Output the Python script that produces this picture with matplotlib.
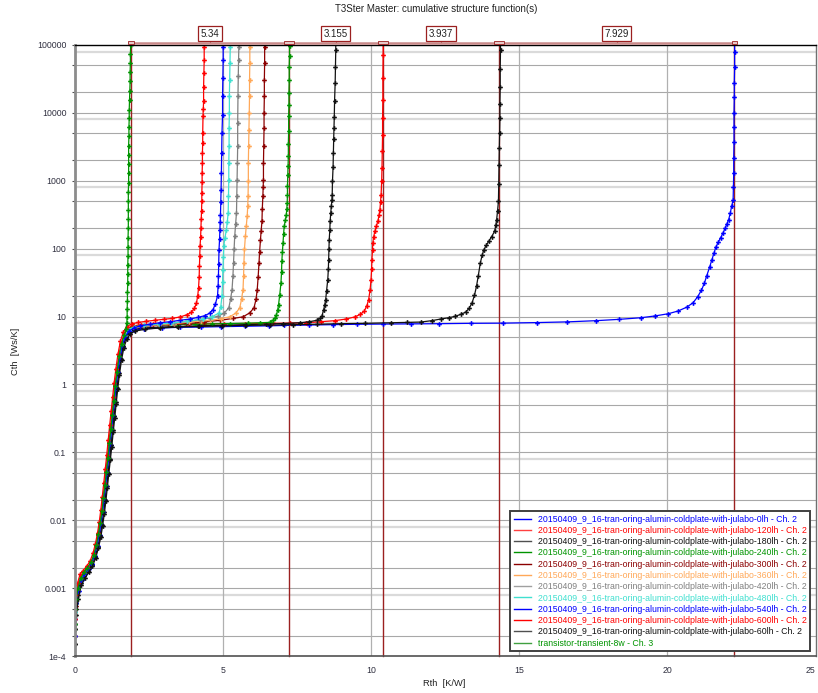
import matplotlib
matplotlib.use("Agg")
import matplotlib.pyplot as plt
from matplotlib.lines import Line2D
from matplotlib.patches import Rectangle
from matplotlib.ticker import FixedLocator, FixedFormatter, NullFormatter

plt.rcParams['font.family'] = ['Liberation Sans', 'DejaVu Sans']
plt.rcParams['font.size'] = 6.3

# cumulative structure functions: (Rth [K/W], Cth [Ws/K])
PTS_0LH = [(0.00, 0.0002), (0.02, 0.0004), (0.06, 0.0006), (0.13, 0.0009), (0.23, 0.0013), (0.35, 0.0016),
           (0.47, 0.0019), (0.59, 0.0023), (0.69, 0.003), (0.77, 0.0042), (0.84, 0.006), (0.90, 0.0088),
           (0.96, 0.013), (1.01, 0.02), (1.06, 0.032), (1.11, 0.05), (1.16, 0.08), (1.21, 0.13), (1.26, 0.21),
           (1.31, 0.34), (1.36, 0.55), (1.41, 0.9), (1.47, 1.45), (1.54, 2.4), (1.62, 3.6), (1.72, 4.9),
           (1.84, 5.8), (2.00, 6.3), (2.35, 6.6), (2.95, 6.8), (3.55, 6.95), (4.25, 7.0), (4.95, 7.1),
           (5.75, 7.2), (6.55, 7.3), (7.07, 7.4), (7.91, 7.5), (8.71, 7.6), (9.52, 7.7), (10.39, 7.75),
           (11.34, 7.8), (12.28, 7.85), (13.36, 7.95), (14.47, 8.0), (15.60, 8.15), (16.63, 8.35), (17.60, 8.7),
           (18.38, 9.1), (19.10, 9.6), (19.58, 10.2), (20.03, 11.0), (20.37, 12.1), (20.66, 13.8), (20.87, 16.0),
           (21.02, 19.5), (21.15, 24.4), (21.25, 31.0), (21.33, 40.0), (21.43, 54.0), (21.50, 68.0),
           (21.57, 85.0), (21.64, 106), (21.72, 125), (21.80, 145), (21.88, 171), (21.95, 200), (22.01, 232),
           (22.07, 268), (22.12, 330), (22.17, 420), (22.22, 527), (22.23, 800), (22.24, 1300), (22.24, 2200),
           (22.25, 3700), (22.25, 6300), (22.25, 10000), (22.26, 17000), (22.26, 28000), (22.27, 47000),
           (22.27, 80000), (22.27, 120000)]

PTS_120LH = [(0.00, 0.0003), (0.02, 0.0005), (0.06, 0.0007), (0.12, 0.0011), (0.21, 0.0015), (0.32, 0.0017),
             (0.44, 0.002), (0.55, 0.0024), (0.65, 0.0031), (0.73, 0.0043), (0.80, 0.0062), (0.86, 0.009),
             (0.91, 0.0135), (0.96, 0.021), (1.01, 0.033), (1.06, 0.053), (1.11, 0.085), (1.16, 0.14),
             (1.21, 0.23), (1.26, 0.37), (1.31, 0.6), (1.36, 0.97), (1.42, 1.6), (1.49, 2.6), (1.57, 4.0),
             (1.67, 5.5), (1.79, 6.7), (1.95, 7.3), (2.25, 7.55), (2.65, 7.65), (3.15, 7.7), (3.75, 7.75),
             (4.35, 7.8), (5.05, 7.85), (5.75, 7.9), (6.69, 7.95), (7.25, 8.0), (7.81, 8.1), (8.31, 8.4),
             (8.78, 8.7), (9.16, 9.2), (9.46, 9.9), (9.64, 10.8), (9.77, 12.0), (9.86, 14.5), (9.92, 17.8),
             (9.97, 25.0), (10.00, 35.0), (10.02, 50.0), (10.03, 69.0), (10.05, 95.0), (10.06, 122),
             (10.09, 150), (10.13, 180), (10.18, 215), (10.23, 253), (10.27, 310), (10.30, 377), (10.32, 480),
             (10.34, 627), (10.36, 1000), (10.37, 1549), (10.38, 2700), (10.39, 4800), (10.39, 8500),
             (10.40, 15700), (10.40, 33000), (10.41, 72000), (10.41, 120000)]

PTS_180LH = [(0.00, 0.00015), (0.02, 0.0003), (0.05, 0.0005), (0.11, 0.0008), (0.21, 0.0012), (0.33, 0.0015),
             (0.46, 0.0018), (0.58, 0.0022), (0.69, 0.0029), (0.78, 0.004), (0.86, 0.0058), (0.92, 0.0085),
             (0.98, 0.013), (1.03, 0.02), (1.08, 0.032), (1.13, 0.05), (1.18, 0.08), (1.23, 0.13), (1.28, 0.21),
             (1.33, 0.34), (1.38, 0.55), (1.43, 0.9), (1.49, 1.45), (1.56, 2.4), (1.64, 3.7), (1.74, 5.0),
             (1.86, 6.0), (2.01, 6.5), (2.36, 6.8), (2.86, 7.0), (3.46, 7.15), (4.16, 7.3), (4.96, 7.45),
             (5.76, 7.6), (6.46, 7.75), (7.04, 7.9), (7.60, 8.1), (7.92, 8.4), (8.17, 8.8), (8.28, 9.4),
             (8.34, 10.1), (8.40, 12.5), (8.44, 15.0), (8.47, 17.8), (8.50, 24.0), (8.54, 35.0), (8.56, 50.0),
             (8.57, 69.0), (8.58, 98.0), (8.59, 136), (8.61, 190), (8.62, 253), (8.64, 330), (8.66, 420),
             (8.68, 520), (8.69, 627), (8.70, 1000), (8.72, 1620), (8.73, 2600), (8.74, 4060), (8.75, 6000),
             (8.76, 8700), (8.77, 15000), (8.79, 27700), (8.80, 48000), (8.81, 85000), (8.81, 120000)]

PTS_240LH = [(0.00, 0.00025), (0.02, 0.0004), (0.05, 0.0006), (0.11, 0.0009), (0.20, 0.0013), (0.31, 0.0016),
             (0.43, 0.0019), (0.55, 0.0023), (0.65, 0.003), (0.73, 0.0042), (0.80, 0.006), (0.86, 0.0088),
             (0.92, 0.013), (0.97, 0.02), (1.02, 0.032), (1.07, 0.05), (1.12, 0.08), (1.17, 0.13), (1.22, 0.21),
             (1.27, 0.34), (1.32, 0.55), (1.37, 0.9), (1.43, 1.5), (1.50, 2.5), (1.58, 3.9), (1.68, 5.4),
             (1.80, 6.5), (1.96, 7.1), (2.35, 7.35), (2.85, 7.5), (3.45, 7.6), (4.05, 7.7), (4.65, 7.8),
             (5.25, 7.9), (5.85, 8.0), (6.25, 8.1), (6.58, 8.2), (6.69, 8.8), (6.76, 9.6), (6.81, 10.7),
             (6.85, 12.5), (6.88, 15.0), (6.92, 21.0), (6.96, 31.0), (6.98, 45.0), (6.99, 65.0), (7.01, 90.0),
             (7.03, 122), (7.05, 165), (7.07, 213), (7.11, 265), (7.14, 317), (7.16, 390), (7.17, 470),
             (7.18, 620), (7.18, 830), (7.19, 1200), (7.20, 1650), (7.21, 2290), (7.21, 3500), (7.22, 5380),
             (7.22, 9000), (7.23, 13000), (7.23, 19600), (7.24, 30000), (7.24, 48000), (7.25, 70000),
             (7.25, 96000), (7.25, 120000)]

PTS_300LH = [(0.00, 0.0002), (0.02, 0.00035), (0.05, 0.00055), (0.11, 0.0009), (0.20, 0.0013), (0.32, 0.0016),
             (0.44, 0.0019), (0.56, 0.0023), (0.66, 0.003), (0.74, 0.0042), (0.81, 0.006), (0.87, 0.0088),
             (0.93, 0.013), (0.98, 0.02), (1.03, 0.032), (1.08, 0.05), (1.13, 0.08), (1.18, 0.13), (1.23, 0.21),
             (1.28, 0.34), (1.33, 0.55), (1.38, 0.9), (1.44, 1.5), (1.51, 2.5), (1.59, 3.8), (1.69, 5.2),
             (1.82, 6.3), (1.99, 6.9), (2.35, 7.2), (2.85, 7.45), (3.35, 7.65), (3.85, 7.9), (4.35, 8.3),
             (4.90, 8.8), (5.35, 9.4), (5.68, 9.9), (5.90, 11.3), (6.05, 13.4), (6.12, 18.0), (6.16, 25.0),
             (6.19, 38.0), (6.22, 62.0), (6.24, 90.0), (6.27, 136), (6.29, 180), (6.32, 253), (6.33, 380),
             (6.35, 590), (6.36, 800), (6.37, 1040), (6.37, 1800), (6.38, 3230), (6.39, 6000), (6.39, 10000),
             (6.40, 17500), (6.40, 30000), (6.41, 55000), (6.41, 95000), (6.41, 120000)]

PTS_360LH = [(0.00, 0.0002), (0.02, 0.0004), (0.05, 0.0006), (0.11, 0.00095), (0.20, 0.0013), (0.32, 0.0016),
             (0.44, 0.0019), (0.56, 0.0023), (0.66, 0.003), (0.74, 0.0042), (0.81, 0.006), (0.87, 0.0088),
             (0.93, 0.013), (0.98, 0.02), (1.03, 0.032), (1.08, 0.05), (1.13, 0.08), (1.18, 0.13), (1.23, 0.21),
             (1.28, 0.34), (1.33, 0.55), (1.38, 0.9), (1.44, 1.5), (1.51, 2.5), (1.59, 3.8), (1.69, 5.2),
             (1.82, 6.3), (1.99, 6.9), (2.35, 7.25), (2.85, 7.55), (3.35, 7.9), (3.85, 8.3), (4.25, 8.6),
             (4.56, 8.8), (4.93, 9.3), (5.23, 9.9), (5.43, 11.2), (5.57, 13.4), (5.63, 18.0), (5.68, 25.0),
             (5.70, 40.0), (5.71, 62.0), (5.73, 100), (5.76, 152), (5.79, 215), (5.82, 300), (5.84, 420),
             (5.85, 590), (5.86, 1000), (5.86, 1830), (5.87, 3200), (5.88, 5600), (5.89, 10000), (5.90, 17500),
             (5.90, 30000), (5.91, 55000), (5.91, 95000), (5.91, 120000)]

PTS_420LH = [(0.00, 0.00025), (0.02, 0.0004), (0.05, 0.0006), (0.11, 0.0009), (0.20, 0.0013), (0.32, 0.0016),
             (0.44, 0.0019), (0.56, 0.0023), (0.66, 0.003), (0.74, 0.0042), (0.81, 0.006), (0.87, 0.0088),
             (0.93, 0.013), (0.98, 0.02), (1.03, 0.032), (1.08, 0.05), (1.13, 0.08), (1.18, 0.13), (1.23, 0.21),
             (1.28, 0.34), (1.33, 0.55), (1.38, 0.9), (1.44, 1.5), (1.51, 2.5), (1.59, 3.8), (1.69, 5.2),
             (1.82, 6.3), (1.99, 6.9), (2.35, 7.3), (2.85, 7.7), (3.35, 8.1), (3.80, 8.5), (4.22, 9.0),
             (4.55, 9.5), (4.84, 10.1), (5.05, 11.3), (5.20, 13.4), (5.26, 18.0), (5.31, 25.0), (5.34, 40.0),
             (5.36, 62.0), (5.38, 100), (5.40, 152), (5.43, 230), (5.46, 338), (5.47, 600), (5.48, 1040),
             (5.49, 1800), (5.50, 3230), (5.50, 7000), (5.51, 17500), (5.52, 35000), (5.53, 60000),
             (5.54, 95000), (5.54, 120000)]

PTS_480LH = [(0.00, 0.0003), (0.02, 0.00045), (0.05, 0.0006), (0.11, 0.0009), (0.20, 0.0013), (0.32, 0.0016),
             (0.44, 0.0019), (0.56, 0.0023), (0.66, 0.003), (0.74, 0.0042), (0.81, 0.006), (0.87, 0.0088),
             (0.93, 0.013), (0.98, 0.02), (1.03, 0.032), (1.08, 0.05), (1.13, 0.08), (1.18, 0.13), (1.23, 0.21),
             (1.28, 0.34), (1.33, 0.55), (1.38, 0.9), (1.44, 1.5), (1.51, 2.5), (1.59, 3.8), (1.69, 5.2),
             (1.82, 6.4), (1.99, 7.0), (2.35, 7.4), (2.85, 7.8), (3.25, 8.0), (3.80, 8.5), (4.33, 9.2),
             (4.65, 10.0), (4.87, 11.3), (4.93, 14.0), (4.97, 20.0), (4.99, 32.0), (5.00, 49.0), (5.02, 75.0),
             (5.03, 108), (5.07, 145), (5.12, 190), (5.15, 250), (5.18, 338), (5.19, 600), (5.20, 1040),
             (5.20, 1800), (5.21, 3230), (5.21, 6000), (5.22, 10000), (5.22, 18000), (5.23, 30800),
             (5.24, 55000), (5.25, 95000), (5.25, 120000)]

PTS_540LH = [(0.00, 0.0002), (0.02, 0.00035), (0.05, 0.0006), (0.11, 0.0009), (0.21, 0.0013), (0.33, 0.0016),
             (0.45, 0.0019), (0.57, 0.0023), (0.67, 0.003), (0.75, 0.0042), (0.82, 0.006), (0.88, 0.0088),
             (0.94, 0.013), (0.99, 0.02), (1.04, 0.032), (1.09, 0.05), (1.14, 0.08), (1.19, 0.13), (1.24, 0.21),
             (1.29, 0.34), (1.34, 0.55), (1.39, 0.9), (1.45, 1.5), (1.52, 2.4), (1.60, 3.7), (1.70, 5.0),
             (1.83, 6.1), (2.00, 6.8), (2.20, 7.3), (2.54, 7.7), (2.87, 8.1), (3.21, 8.4), (3.55, 8.8),
             (3.89, 9.2), (4.15, 9.7), (4.39, 10.3), (4.55, 11.2), (4.67, 12.7), (4.75, 15.5), (4.82, 20.0),
             (4.84, 28.0), (4.85, 39.0), (4.86, 60.0), (4.87, 97.0), (4.89, 140), (4.90, 190), (4.91, 250),
             (4.92, 317), (4.93, 480), (4.94, 740), (4.95, 1300), (4.96, 2570), (4.97, 5000), (4.99, 9440),
             (4.99, 18000), (5.00, 32700), (5.01, 60000), (5.01, 95000), (5.01, 120000)]

PTS_600LH = [(0.00, 0.00035), (0.02, 0.0006), (0.05, 0.0008), (0.10, 0.0012), (0.18, 0.0016), (0.28, 0.0018),
             (0.40, 0.0021), (0.52, 0.0025), (0.62, 0.0033), (0.70, 0.0045), (0.77, 0.0065), (0.83, 0.0095),
             (0.88, 0.014), (0.93, 0.022), (0.98, 0.035), (1.03, 0.056), (1.08, 0.09), (1.13, 0.15),
             (1.18, 0.25), (1.23, 0.40), (1.28, 0.65), (1.33, 1.05), (1.39, 1.7), (1.46, 2.8), (1.54, 4.3),
             (1.64, 5.9), (1.76, 7.1), (1.92, 7.8), (2.15, 8.2), (2.40, 8.5), (2.70, 8.8), (3.00, 9.1),
             (3.30, 9.4), (3.57, 9.9), (3.80, 10.7), (3.94, 11.6), (4.04, 13.2), (4.11, 15.9), (4.15, 20.0),
             (4.18, 26.5), (4.20, 38.0), (4.21, 55.0), (4.22, 78.0), (4.23, 108), (4.25, 150), (4.26, 203),
             (4.27, 270), (4.28, 355), (4.29, 500), (4.29, 663), (4.30, 950), (4.30, 1306), (4.31, 1800),
             (4.31, 2570), (4.32, 3600), (4.32, 5070), (4.33, 8900), (4.34, 11500), (4.35, 14900),
             (4.35, 24000), (4.36, 39000), (4.37, 60000), (4.37, 95000), (4.37, 120000)]

PTS_60LH = [(0.00, 0.00015), (0.02, 0.00025), (0.05, 0.0004), (0.12, 0.0007), (0.22, 0.0011), (0.34, 0.0014),
            (0.47, 0.0017), (0.60, 0.0021), (0.71, 0.0028), (0.80, 0.0039), (0.88, 0.0056), (0.94, 0.0082),
            (1.00, 0.0125), (1.05, 0.019), (1.10, 0.03), (1.15, 0.048), (1.20, 0.076), (1.25, 0.12),
            (1.30, 0.2), (1.35, 0.32), (1.40, 0.52), (1.45, 0.85), (1.51, 1.4), (1.58, 2.3), (1.66, 3.5),
            (1.76, 4.7), (1.88, 5.6), (2.03, 6.1), (2.38, 6.5), (2.88, 6.8), (3.48, 7.0), (4.18, 7.15),
            (4.98, 7.3), (5.78, 7.4), (6.58, 7.5), (7.38, 7.6), (8.18, 7.7), (8.98, 7.85), (9.80, 7.95),
            (10.67, 8.1), (11.20, 8.2), (11.68, 8.3), (12.05, 8.7), (12.35, 9.2), (12.62, 9.6), (12.85, 10.1),
            (13.03, 10.8), (13.19, 11.6), (13.31, 13.2), (13.41, 15.9), (13.49, 20.5), (13.56, 28.0),
            (13.62, 40.0), (13.69, 62.0), (13.75, 80.0), (13.81, 97.0), (13.89, 112), (13.97, 128),
            (14.07, 150), (14.17, 180), (14.21, 220), (14.24, 268), (14.27, 360), (14.30, 499), (14.31, 900),
            (14.32, 1733), (14.33, 3000), (14.34, 5000), (14.35, 8500), (14.35, 13700), (14.36, 24000),
            (14.36, 45000), (14.37, 85000), (14.37, 120000)]

PTS_8W = [(0.00, 0.0003), (0.02, 0.0005), (0.05, 0.0007), (0.11, 0.001), (0.20, 0.0014), (0.31, 0.0017),
          (0.43, 0.002), (0.55, 0.0024), (0.65, 0.0031), (0.73, 0.0043), (0.80, 0.0062), (0.86, 0.009),
          (0.92, 0.0135), (0.97, 0.021), (1.02, 0.033), (1.07, 0.052), (1.12, 0.083), (1.17, 0.135),
          (1.22, 0.22), (1.27, 0.36), (1.32, 0.58), (1.37, 0.95), (1.43, 1.55), (1.50, 2.6), (1.58, 4.0),
          (1.68, 5.4), (1.73, 6.6), (1.76, 8.0), (1.77, 10.0), (1.77, 13.0), (1.78, 17.0), (1.78, 23.0),
          (1.79, 31.0), (1.79, 42.0), (1.79, 57.0), (1.80, 78.0), (1.80, 105), (1.80, 145), (1.81, 200),
          (1.81, 270), (1.81, 370), (1.81, 500), (1.81, 690), (1.82, 940), (1.82, 1300), (1.82, 1750),
          (1.82, 2400), (1.82, 3300), (1.83, 4500), (1.83, 6100), (1.84, 8300), (1.84, 11000),
          (1.85, 15500), (1.86, 21000), (1.87, 29000), (1.87, 40000), (1.88, 54000), (1.88, 74000),
          (1.89, 100000), (1.89, 120000)]

LABELS = [
    "20150409_9_16-tran-oring-alumin-coldplate-with-julabo-0lh - Ch. 2",
    "20150409_9_16-tran-oring-alumin-coldplate-with-julabo-120lh - Ch. 2",
    "20150409_9_16-tran-oring-alumin-coldplate-with-julabo-180lh - Ch. 2",
    "20150409_9_16-tran-oring-alumin-coldplate-with-julabo-240lh - Ch. 2",
    "20150409_9_16-tran-oring-alumin-coldplate-with-julabo-300lh - Ch. 2",
    "20150409_9_16-tran-oring-alumin-coldplate-with-julabo-360lh - Ch. 2",
    "20150409_9_16-tran-oring-alumin-coldplate-with-julabo-420lh - Ch. 2",
    "20150409_9_16-tran-oring-alumin-coldplate-with-julabo-480lh - Ch. 2",
    "20150409_9_16-tran-oring-alumin-coldplate-with-julabo-540lh - Ch. 2",
    "20150409_9_16-tran-oring-alumin-coldplate-with-julabo-600lh - Ch. 2",
    "20150409_9_16-tran-oring-alumin-coldplate-with-julabo-60lh - Ch. 2",
    "transistor-transient-8w - Ch. 3",
]
COLORS = ["#0000ff", "#ff0000", "#111111", "#009400", "#8b0000", "#ffa858",
          "#808080", "#40e0d0", "#0000ff", "#ff0000", "#111111", "#009400"]
LEGEND_LINE_COLORS = ["#0000ff", "#ff4040", "#505050", "#009400", "#8b0000", "#ffa858",
                      "#a0a0a0", "#40e0d0", "#0000ff", "#ff0000", "#505050", "#40a040"]
SERIES = [PTS_0LH, PTS_120LH, PTS_180LH, PTS_240LH, PTS_300LH, PTS_360LH,
          PTS_420LH, PTS_480LH, PTS_540LH, PTS_600LH, PTS_60LH, PTS_8W]

# cursor positions: first cursor plus the measured differences
CURSOR_START = 1.90
CURSOR_DELTAS = [5.34, 3.155, 3.937, 7.929]

YTICKS = [1e-4, 1e-3, 1e-2, 1e-1, 1, 10, 100, 1000, 10000, 100000]
YTICK_LABELS = ["1e-4", "0.001", "0.01", "0.1", "1", "10", "100", "1000", "10000", "100000"]
XTICKS = [0, 5, 10, 15, 20, 25]

W, H = 818, 693
fig = plt.figure(figsize=(W / 100, H / 100), dpi=100)
x0, x1, ytop, ybot = 74.7, 815.5, 45, 656
ax = fig.add_axes([x0 / W, 1 - ybot / H, (x1 - x0) / W, (ybot - ytop) / H])
ax.set_yscale('log')
ax.set_xlim(0, 25)
ax.set_ylim(1e-4, 1e5)

# grid: decades plus 2 and 5, with a pale line just under each decade
for e in range(-4, 5):
    for m in (1, 2, 5):
        v = m * 10.0 ** e
        if 1e-4 < v < 1e5:
            ax.axhline(v, color="#a8a8a8", lw=0.8, zorder=0)
    ax.axhline(0.8 * 10.0 ** (e + 1), color="#dadada", lw=1.6, zorder=0)
for xv in (5, 10, 15, 20):
    ax.axvline(xv, color="#b0b0b0", lw=0.9, zorder=0)

# cursors and their difference bar above the plot
trans = ax.get_xaxis_transform()
cursors = [CURSOR_START]
for d in CURSOR_DELTAS:
    cursors.append(cursors[-1] + d)
for c in cursors:
    ax.plot([c, c], [0, 1.003], transform=trans, color="#9b2020", lw=1.0,
            zorder=1.5, clip_on=False)
ax.plot([cursors[0], cursors[-1]], [1.0035, 1.0035], transform=trans, color="#c98a8a",
        lw=1.8, clip_on=False, zorder=3)
for i, c in enumerate(cursors):
    wdt = 0.17 if i in (0, len(cursors) - 1) else 0.34
    ax.add_patch(Rectangle((c - wdt / 2, 1.0015), wdt, 0.0045, transform=trans, fc="#e8c8c8",
                           ec="#9b2020", lw=0.6, clip_on=False, zorder=4))
for a, b, d in zip(cursors[:-1], cursors[1:], CURSOR_DELTAS):
    mid = (a + b) / 2
    ax.plot([mid, mid], [1.0035, 1.012], transform=trans, color="#9b2020", lw=0.8, clip_on=False)
    ax.text(mid, 1.0185, f"{d:g}", transform=trans, ha='center', va='center', fontsize=7,
            color="#222222", clip_on=False, zorder=5,
            bbox=dict(boxstyle='square,pad=0.25', fc='white', ec="#9b2020", lw=0.9))

for pts, col in zip(SERIES, COLORS):
    r = [p[0] for p in pts]
    c = [p[1] for p in pts]
    ax.plot(r, c, color=col, lw=0.9, marker='P', ms=3.4, mew=0, zorder=2)

ax.yaxis.set_major_locator(FixedLocator(YTICKS))
ax.yaxis.set_major_formatter(FixedFormatter(YTICK_LABELS))
minor = [m * 10.0 ** e for e in range(-4, 5) for m in (2, 5)]
ax.yaxis.set_minor_locator(FixedLocator(minor))
ax.yaxis.set_minor_formatter(NullFormatter())
ax.set_xticks(XTICKS)
ax.tick_params(axis='y', which='both', length=2, width=0.8, color="#505050", pad=4,
               labelsize=6.3, labelcolor="#303040")
ax.tick_params(axis='x', length=0, pad=7, labelsize=6.3, labelcolor="#303040")
# the last x label sits against the figure edge
ax.get_xticklabels()[-1].set_horizontalalignment('right')

ax.spines['left'].set_color("#8c8c8c")
ax.spines['left'].set_linewidth(2.0)
ax.spines['bottom'].set_color("#505050")
ax.spines['bottom'].set_linewidth(1.2)
ax.spines['top'].set_color("#000000")
ax.spines['top'].set_linewidth(1.0)
ax.spines['right'].set_color("#707070")
ax.spines['right'].set_linewidth(1.0)

handles = [Line2D([], [], color=lc, lw=1.0) for lc in LEGEND_LINE_COLORS]
leg = ax.legend(handles, LABELS, loc='lower right', bbox_to_anchor=(0.9925, 0.008),
                borderaxespad=0, fontsize=6.3, handlelength=2.0, handletextpad=0.7,
                labelspacing=0.26, borderpad=0.4, fancybox=False, framealpha=1)
leg.get_frame().set_edgecolor("#404040")
leg.get_frame().set_linewidth(1.4)
for txt, col in zip(leg.get_texts(), COLORS):
    txt.set_color(col)

fig.text(436 / W, 1 - 9 / H, "T3Ster Master: cumulative structure function(s)",
         ha='center', va='center', fontsize=7, color="#202020")
fig.text(444 / W, 1 - 683 / H, "Rth  [K/W]", ha='center', va='center', fontsize=6.7, color="#202020")
fig.text(16 / W, 1 - 351 / H, "Cth  [Ws/K]", ha='center', va='center', rotation=90,
         fontsize=6.7, color="#202020")

fig.savefig("out.png", dpi=100)
